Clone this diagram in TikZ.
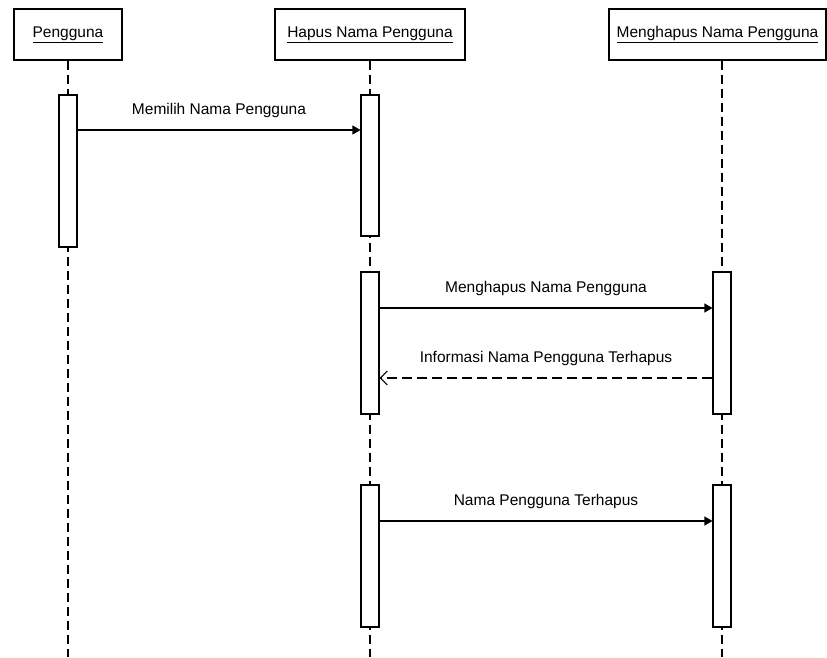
\documentclass[tikz,border=0pt]{standalone}
\usepackage{fontspec}
\setmainfont{Liberation Sans}
\usetikzlibrary{arrows.meta}

\begin{document}
\begin{tikzpicture}[x=1pt,y=-1pt]

\newcommand{\obj}[1]{\underline{#1}}

 \tikzset{
      headbox/.style={draw,line width=1.1pt,fill=white,minimum height=51pt,inner sep=0pt,font=\fontsize{15.5}{18}\selectfont},
      actbox/.style={draw,line width=1.1pt,fill=white,minimum width=18pt,inner sep=0pt},
      lifeline/.style={line width=1.1pt,dash pattern=on 9pt off 5pt},
      call/.style={line width=1.1pt,-{Triangle[length=8pt,width=9pt]}},
      reply/.style={line width=1.1pt,dash pattern=on 10pt off 5pt,-{Straight Barb[length=7pt,width=14pt]}},
      msglbl/.style={inner sep=0pt,font=\fontsize{15.5}{18}\selectfont},
    }

 \useasboundingbox (0,0) rectangle (827,657);

 % end points of the lifelines
 \coordinate (pgend) at (68,657);
 \coordinate (hpend) at (370,657);
 \coordinate (mhend) at (722,657);

 % heights of the messages
 \coordinate (m1) at (0,130);
 \coordinate (m2) at (0,308);
 \coordinate (m3) at (0,378);
 \coordinate (m4) at (0,521);

 \node[headbox,minimum width=108pt] (pg) at (68,34.5) {\obj{Pengguna}};
 \node[headbox,minimum width=190pt] (hp) at (370,34.5) {\obj{Hapus Nama Pengguna}};
 \node[headbox,minimum width=217pt] (mh) at (717.5,34.5) {\obj{Menghapus Nama Pengguna}};

 \draw[lifeline] (pg.south) -- (pgend);
 \draw[lifeline] (hp.south) -- (hpend);
 \draw[lifeline] (mhend |- mh.south) -- (mhend);

 \node[actbox,minimum height=152pt] (pg1) at (68,171) {};
 \node[actbox,minimum height=141pt] (hp1) at (370,165.5) {};
 \node[actbox,minimum height=142pt] (hp2) at (370,343) {};
 \node[actbox,minimum height=142pt] (mh2) at (722,343) {};
 \node[actbox,minimum height=142pt] (hp3) at (370,556) {};
 \node[actbox,minimum height=142pt] (mh3) at (722,556) {};

 \draw[call] (pg1.east |- m1) -- (hp1.west |- m1)
   node[msglbl,midway,above=12pt] {Memilih Nama Pengguna};
 \draw[call] (hp2.east |- m2) -- (mh2.west |- m2)
   node[msglbl,midway,above=12pt] {Menghapus Nama Pengguna};
 \draw[reply] (mh2.west |- m3) -- (hp2.east |- m3)
   node[msglbl,midway,above=12pt] {Informasi Nama Pengguna Terhapus};
 \draw[call] (hp3.east |- m4) -- (mh3.west |- m4)
   node[msglbl,midway,above=12pt] {Nama Pengguna Terhapus};
\end{tikzpicture}
\end{document}
